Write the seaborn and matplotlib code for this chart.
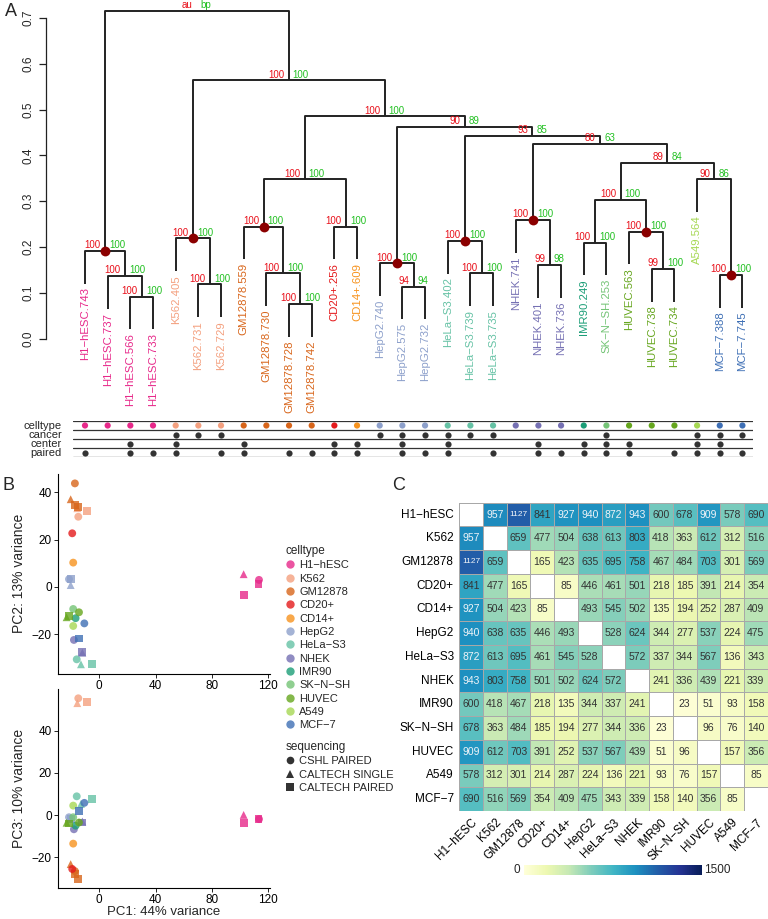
import numpy as np
import pandas as pd
import seaborn as sns
import matplotlib.pyplot as plt
from matplotlib.lines import Line2D

sns.set_theme(style='white')
plt.rcParams['font.family'] = ['Liberation Sans', 'DejaVu Sans']
M = '\u2212'  # R draws hyphens as minus signs

# ---------------- data ----------------
celltypes = ['H1-hESC', 'K562', 'GM12878', 'CD20+', 'CD14+', 'HepG2', 'HeLa-S3',
             'NHEK', 'IMR90', 'SK-N-SH', 'HUVEC', 'A549', 'MCF-7']
celltype_colors = ['#E7298A', '#F4A07F', '#D8651A', '#E41A1C', '#F7931E', '#8DA0CB',
                   '#66C2A5', '#7570B3', '#1B9E77', '#74C476', '#66A61E', '#A6D854', '#3E6FB5']

# dendrogram leaves, left to right
leaf_names = ['H1-hESC.743', 'H1-hESC.737', 'H1-hESC.566', 'H1-hESC.733',
              'K562.405', 'K562.731', 'K562.729',
              'GM12878.559', 'GM12878.730', 'GM12878.728', 'GM12878.742',
              'CD20+.256', 'CD14+.609',
              'HepG2.740', 'HepG2.575', 'HepG2.732',
              'HeLa-S3.402', 'HeLa-S3.739', 'HeLa-S3.735',
              'NHEK.741', 'NHEK.401', 'NHEK.736',
              'IMR90.249', 'SK-N-SH.253',
              'HUVEC.563', 'HUVEC.738', 'HUVEC.734',
              'A549.564', 'MCF-7.388', 'MCF-7.745']
leaf_type = [0, 0, 0, 0, 1, 1, 1, 2, 2, 2, 2, 3, 4, 5, 5, 5, 6, 6, 6,
             7, 7, 7, 8, 9, 10, 10, 10, 11, 12, 12]

# merges in R hclust style: negative = leaf (1-based), positive = earlier merge (1-based)
merge_left = [-3, -2, -1, -6, -5, -10, -9, -8, -12, 8, -15, -14, -18, -17, -21,
              -20, -23, -26, -25, 17, -29, -28, 20, 16, 14, 12, 10, 5, 3]
merge_right = [-4, 1, 2, -7, 4, -11, 6, 7, -13, 9, -16, 11, -19, 13, -22,
               15, -24, -27, 18, 19, -30, 21, 22, 23, 24, 25, 26, 27, 28]
merge_height = [0.092, 0.137, 0.192, 0.119, 0.219, 0.076, 0.143, 0.245, 0.245, 0.348,
                0.114, 0.165, 0.143, 0.214, 0.161, 0.259, 0.210, 0.152, 0.234, 0.303,
                0.139, 0.348, 0.384, 0.425, 0.442, 0.463, 0.485, 0.564, 0.715]
merge_au = ['100', '100', '100', '100', '100', '100', '100', '100', '100', '100',
            '94', '100', '100', '100', '99', '100', '100', '99', '100', '100',
            '100', '90', '89', '80', '93', '90', '100', '100', 'au']
merge_bp = ['100', '100', '100', '100', '100', '100', '100', '100', '100', '100',
            '94', '100', '100', '100', '98', '100', '100', '100', '100', '100',
            '100', '86', '84', '63', '85', '89', '100', '100', 'bp']
merge_dot = [3, 5, 8, 12, 14, 16, 19, 21]
hang = 0.0715

# annotation tracks (leaf indices with a dot)
cancer_leaves = [4, 5, 6, 13, 14, 15, 16, 17, 18, 23, 27, 28, 29]
center_leaves = [2, 4, 7, 11, 12, 14, 16, 20, 22, 23, 24, 27, 28]
paired_leaves = [0, 2, 3, 4, 6, 7, 9, 10, 11, 12, 14, 15, 16, 18, 20, 21, 22, 23,
                 24, 26, 27, 28, 29]

# PCA coordinates per leaf
pc1 = [113.0, 102.5, 113.4, 102.5, -14.9, -15.6, -8.5, -17.3, -20.3, -17.3, -15.4,
       -19.2, -18.5, -20.3, -21.5, -20.1, -16.0, -13.0, -5.4, -12.0, -18.0, -12.5,
       -16.8, -18.5, -14.4, -23.2, -21.5, -18.5, -10.6, -14.4]
pc2 = [1.1, 5.4, 3.0, -3.4, 29.7, 33.3, 32.3, 43.8, 37.1, 34.7, 33.7,
       22.7, 10.3, 0.8, 3.3, 3.5, -30.6, -32.7, -32.7, -27.8, -22.4, -27.6,
       -13.2, -9.3, -10.7, -12.8, -12.3, -16.5, -15.4, -21.8]
pc3 = [-1.9, 0.1, -1.9, -3.8, 55.3, 53.0, 53.4, -26.5, -23.2, -27.8, -30.2,
       -25.5, -13.5, -1.5, -1.0, -2.0, 8.9, 5.3, 7.8, -3.0, -6.7, -3.5,
       -5.0, -1.0, -3.5, -3.6, -4.0, 4.5, 5.8, 1.9]

# pairwise differences between cell types (diagonal empty)
dist_rows = [
    [None, 957, 1127, 841, 927, 940, 872, 943, 600, 678, 909, 578, 690],
    [957, None, 659, 477, 504, 638, 613, 803, 418, 363, 612, 312, 516],
    [1127, 659, None, 165, 423, 635, 695, 758, 467, 484, 703, 301, 569],
    [841, 477, 165, None, 85, 446, 461, 501, 218, 185, 391, 214, 354],
    [927, 504, 423, 85, None, 493, 545, 502, 135, 194, 252, 287, 409],
    [940, 638, 635, 446, 493, None, 528, 624, 344, 277, 537, 224, 475],
    [872, 613, 695, 461, 545, 528, None, 572, 337, 344, 567, 136, 343],
    [943, 803, 758, 501, 502, 624, 572, None, 241, 336, 439, 221, 339],
    [600, 418, 467, 218, 135, 344, 337, 241, None, 23, 51, 93, 158],
    [678, 363, 484, 185, 194, 277, 344, 336, 23, None, 96, 76, 140],
    [909, 612, 703, 391, 252, 537, 567, 439, 51, 96, None, 157, 356],
    [578, 312, 301, 214, 287, 224, 136, 221, 93, 76, 157, None, 85],
    [690, 516, 569, 354, 409, 475, 343, 339, 158, 140, 356, 85, None],
]

# ---------------- figure ----------------
W, H = 768, 919
fig = plt.figure(figsize=(W / 100, H / 100), dpi=100)


def px_axes(x0, y0, x1, y1):
    return fig.add_axes([x0 / W, 1 - y1 / H, (x1 - x0) / W, (y1 - y0) / H])


def rname(s):
    return s.replace('-', M)


# ---- A: dendrogram ----
leaf_x0, leaf_dx = 85, 22.67
axd = px_axes(46, 5, 760, 415)
axd.set_xlim((46 - leaf_x0) / leaf_dx, (760 - leaf_x0) / leaf_dx)
axd.set_ylim(-0.166, 0.728)

node_x = {}
for k in range(len(merge_left)):
    h = merge_height[k]
    xs, ys = [], []
    for r in (merge_left[k], merge_right[k]):
        if r < 0:
            i = -r - 1
            xs.append(i)
            ys.append(h - hang)
            axd.text(i, h - hang - 0.008, rname(leaf_names[i]), rotation=90,
                     ha='center', va='top', fontsize=8.2,
                     color=celltype_colors[leaf_type[i]])
        else:
            xs.append(node_x[r])
            ys.append(merge_height[r - 1])
    node_x[k + 1] = np.mean(xs)
    axd.plot([xs[0], xs[0], xs[1], xs[1]], [ys[0], h, h, ys[1]],
             color='#222222', lw=1.4, solid_capstyle='butt')
    axd.annotate(merge_au[k], (node_x[k + 1], h), xytext=(-3, 0.5),
                 textcoords='offset points', ha='right', va='bottom',
                 fontsize=7, color='#E8101A')
    axd.annotate(merge_bp[k], (node_x[k + 1], h), xytext=(3, 0.5),
                 textcoords='offset points', ha='left', va='bottom',
                 fontsize=7, color='#22C022')

axd.scatter([node_x[d] for d in merge_dot], [merge_height[d - 1] for d in merge_dot],
            s=50, color='#8B0000', zorder=5, linewidth=0)

for s in ['top', 'right', 'bottom']:
    axd.spines[s].set_visible(False)
axd.spines['left'].set_bounds(0, 0.7)
axd.spines['left'].set_color('#222222')
axd.spines['left'].set_linewidth(0.9)
axd.set_xticks([])
yt = np.round(np.arange(0, 0.71, 0.1), 1)
axd.set_yticks(yt)
axd.set_yticklabels([f'{v:.1f}' for v in yt], rotation=90, va='center', fontsize=8.5)
axd.tick_params(axis='y', left=True, length=5, width=0.9, pad=3, color='#222222')
fig.text(5 / W, 1 - 12 / H, 'A', fontsize=13, va='center', ha='left')

# ---- annotation tracks ----
axt = px_axes(73, 421, 753, 457)
axt.set_xlim((73 - leaf_x0) / leaf_dx, (753 - leaf_x0) / leaf_dx)
axt.set_ylim(0, 4)
axt.axis('off')
for yl in range(5):
    axt.axhline(yl, color='#333333', lw=0.9)
n_leaf = len(leaf_names)
axt.scatter(range(n_leaf), [3.5] * n_leaf, s=20, linewidth=0,
            color=[celltype_colors[t] for t in leaf_type])
for row_y, leaves in [(2.5, cancer_leaves), (1.5, center_leaves), (0.5, paired_leaves)]:
    axt.scatter(leaves, [row_y] * len(leaves), s=20, linewidth=0, color='#333333')
for row_y, lab in [(3.5, 'celltype'), (2.5, 'cancer'), (1.5, 'center'), (0.5, 'paired')]:
    axt.text((62 - leaf_x0) / leaf_dx, row_y, lab, ha='right', va='center',
             fontsize=8, linespacing=1.0)

# ---- B: PCA ----
seq = []
for i in range(n_leaf):
    if i in center_leaves:
        seq.append('CSHL PAIRED')
    elif i in paired_leaves:
        seq.append('CALTECH PAIRED')
    else:
        seq.append('CALTECH SINGLE')
pca = pd.DataFrame({'PC1': pc1, 'PC2': pc2, 'PC3': pc3,
                    'celltype': [celltypes[t] for t in leaf_type], 'sequencing': seq})
seq_order = ['CSHL PAIRED', 'CALTECH SINGLE', 'CALTECH PAIRED']
seq_markers = {'CSHL PAIRED': 'o', 'CALTECH SINGLE': '^', 'CALTECH PAIRED': 's'}

ax_b1 = px_axes(58, 473.7, 269.7, 674)
ax_b2 = px_axes(58, 689, 269.7, 888)
for ax, yc, ylim in [(ax_b1, 'PC2', (-36.8, 47.9)), (ax_b2, 'PC3', (-34.5, 59.7))]:
    sns.scatterplot(data=pca, x='PC1', y=yc, hue='celltype', style='sequencing',
                    hue_order=celltypes, palette=celltype_colors,
                    style_order=seq_order, markers=seq_markers,
                    s=32, alpha=0.8, linewidth=0, legend=False, ax=ax)
    ax.set_xlim(-29.3, 121)
    ax.set_ylim(*ylim)
    ax.set_xticks([0, 40, 80, 120])
    ax.set_yticks([-20, 0, 20, 40])
    sns.despine(ax=ax)
    for s in ['left', 'bottom']:
        ax.spines[s].set_color('black')
        ax.spines[s].set_linewidth(0.8)
    ax.tick_params(axis='both', bottom=True, left=True, length=3, width=0.6,
                   labelsize=8.5, pad=1.5, colors='black')
ax_b1.set_xlabel('')
ax_b1.set_ylabel('PC2: 13% variance', fontsize=10)
ax_b2.set_ylabel('PC3: 10% variance', fontsize=10)
ax_b2.set_xlabel('PC1: 44% variance', fontsize=9.5, labelpad=0)
fig.text(2 / W, 1 - 485 / H, 'B', fontsize=13, va='center', ha='left')

ct_handles = [Line2D([], [], marker='o', ls='', markersize=6, markeredgewidth=0,
                     color=c, alpha=0.8, label=rname(n))
              for n, c in zip(celltypes, celltype_colors)]
leg1 = ax_b1.legend(handles=ct_handles, title='celltype', loc='upper left',
                    bbox_to_anchor=(286 / W, 1 - 545 / H), bbox_transform=fig.transFigure,
                    frameon=False, fontsize=8, title_fontsize=8.5, handlelength=0.7,
                    handletextpad=0.5, labelspacing=0.3, borderpad=0, borderaxespad=0,
                    alignment='left')
ax_b1.add_artist(leg1)
sq_handles = [Line2D([], [], marker=seq_markers[s], ls='', markersize=5.5, markeredgewidth=0,
                     color='#333333', label=s) for s in seq_order]
ax_b1.legend(handles=sq_handles, title='sequencing', loc='upper left',
             bbox_to_anchor=(286 / W, 1 - 741 / H), bbox_transform=fig.transFigure,
             frameon=False, fontsize=8, title_fontsize=8.5, handlelength=0.7,
             handletextpad=0.5, labelspacing=0.3, borderpad=0, borderaxespad=0,
             alignment='left')

# ---- C: heatmap ----
names = [rname(c) for c in celltypes]
dist = pd.DataFrame([[np.nan if v is None else v for v in row] for row in dist_rows],
                    index=names, columns=names)
axc = px_axes(459.3, 502.7, 767.7, 811)
sns.heatmap(dist, ax=axc, cmap='YlGnBu', vmin=0, vmax=1500, mask=dist.isna(),
            cbar=False, linewidths=0.6, linecolor='#A8A8A8')
for i in range(len(names)):
    for j in range(len(names)):
        v = dist_rows[i][j]
        if v is None:
            continue
        axc.text(j + 0.5, i + 0.5, str(v), ha='center', va='center',
                 fontsize=6 if v >= 1000 else 7.5,
                 color='#F0F4F8' if v >= 850 else '#333333')
axc.set_xticks(np.arange(len(names)) + 0.5)
axc.set_yticks(np.arange(len(names)) + 0.5)
axc.set_xticklabels(names, rotation=45, ha='right', rotation_mode='anchor', fontsize=8.5)
axc.set_yticklabels(names, rotation=0, fontsize=8.5)
axc.tick_params(length=0, pad=4, colors='black')
fig.text(392 / W, 1 - 486 / H, 'C', fontsize=13, va='center', ha='left')

cax = px_axes(524, 865, 702, 875)
cb = fig.colorbar(axc.collections[0], cax=cax, orientation='horizontal')
cb.outline.set_visible(False)
cax.set_xticks([])
cax.text(-0.02, 0.5, '0', transform=cax.transAxes, ha='right', va='center', fontsize=8.5)
cax.text(1.01, 0.5, '1500', transform=cax.transAxes, ha='left', va='center', fontsize=8.5)

fig.savefig('out.png', dpi=100)
